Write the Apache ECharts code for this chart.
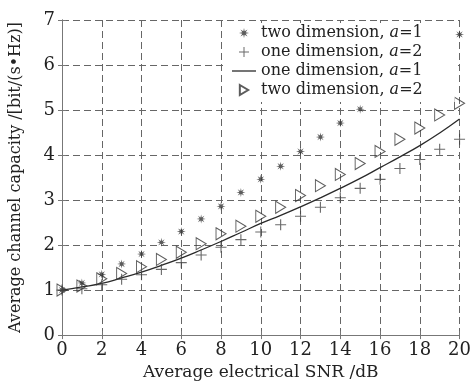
<!DOCTYPE html>
<html>
<head>
<meta charset="utf-8">
<script src="https://cdn.jsdelivr.net/npm/echarts@6/dist/echarts.min.js"></script>
<style>
  html, body { margin: 0; padding: 0; background: #fff; }
  #chart { width: 474px; height: 386px; }
</style>
</head>
<body>
<div id="chart"></div>
<script>
// 数据：横轴 SNR (dB)
const snr = [0, 1, 2, 3, 4, 5, 6, 7, 8, 9, 10, 11, 12, 13, 14, 15, 16, 17, 18, 19, 20]

// two dimension, a=1 (16~19 被图例遮住，原图不可见)
const twoDimA1 = [1.0, 1.16, 1.35, 1.58, 1.8, 2.06, 2.3, 2.58, 2.86, 3.17, 3.46, 3.75, 4.08, 4.4, 4.71, 5.02, null, null, null, null, 6.68]
// one dimension, a=2
const oneDimA2 = [1.0, 1.03, 1.12, 1.24, 1.34, 1.46, 1.61, 1.78, 1.95, 2.12, 2.29, 2.45, 2.64, 2.84, 3.05, 3.26, 3.46, 3.7, 3.9, 4.13, 4.35]
// one dimension, a=1 (曲线)
const oneDimA1 = [1.0, 1.07, 1.15, 1.27, 1.4, 1.55, 1.71, 1.89, 2.08, 2.28, 2.48, 2.66, 2.85, 3.05, 3.26, 3.48, 3.72, 3.96, 4.21, 4.49, 4.8]
// two dimension, a=2
const twoDimA2 = [1.0, 1.09, 1.25, 1.37, 1.52, 1.68, 1.84, 2.03, 2.25, 2.42, 2.64, 2.84, 3.1, 3.32, 3.57, 3.81, 4.08, 4.35, 4.6, 4.89, 5.15]

const seriesNames = ['two dimension, a=1', 'one dimension, a=2', 'one dimension, a=1', 'two dimension, a=2']

const pair = (ys) => snr.map((x, i) => [x, ys[i]]).filter((p) => p[1] !== null)

// 星形符号
const starPath = (() => {
  const pts = []
  for (let k = 0; k < 16; k++) {
    const r = k % 2 === 0 ? 5 : 1.8
    const a = (Math.PI / 8) * k - Math.PI / 2
    pts.push((5 + r * Math.cos(a)).toFixed(2) + ',' + (5 + r * Math.sin(a)).toFixed(2))
  }
  return 'path://M' + pts.join('L') + 'Z'
})()
const plusPath = 'path://M4.5,0h1v4.5h4.5v1h-4.5v4.5h-1v-4.5h-4.5v-1h4.5z'
const triPath = 'path://M0,0L10,6L0,12Z'
const linePath = 'path://M0,0h24v1.3h-24z'

const serif = '"DejaVu Serif", "Liberation Serif", serif'
const ink = '#2a2a2a'
const frame = '#777'

const chart = echarts.init(document.getElementById('chart'))

const legendFormatter = (name) => {
  const m = name.match(/^(.*), a=(\d)$/)
  return '{n|' + m[1] + ', }{i|a}{n|=' + m[2] + '}'
}

const option = {
  animation: false,
  backgroundColor: '#fff',
  grid: { left: 55, right: 13, top: 20, bottom: 48 },
  legend: {
    orient: 'vertical',
    left: 227,
    top: 23,
    padding: [2, 32, 4, 5],
    itemGap: 3,
    itemWidth: 24,
    itemHeight: 10,
    backgroundColor: '#fff',
    z: 10,
    data: [
      { name: seriesNames[0] },
      { name: seriesNames[1] },
      { name: seriesNames[2], icon: linePath },
      { name: seriesNames[3] },
    ],
    formatter: legendFormatter,
    textStyle: {
      fontFamily: serif,
      fontSize: 16,
      color: '#222',
      rich: {
        n: { fontFamily: serif, fontSize: 16, color: '#222' },
        i: { fontFamily: serif, fontSize: 16, fontStyle: 'italic', color: '#222' },
      },
    },
  },
  xAxis: [
    {
      type: 'value',
      min: 0,
      max: 20,
      interval: 2,
      name: 'Average electrical SNR /dB',
      nameLocation: 'middle',
      nameGap: 28,
      nameTextStyle: { fontFamily: serif, fontSize: 17, color: '#222' },
      axisLine: { lineStyle: { color: frame, width: 1 } },
      axisTick: { inside: true, length: 4, lineStyle: { color: frame } },
      axisLabel: { fontFamily: serif, fontSize: 18, color: '#222', margin: 6 },
      splitLine: { show: true, lineStyle: { type: [7, 4], color: '#666', width: 1 } },
    },
    {
      type: 'value',
      position: 'top',
      min: 0,
      max: 20,
      interval: 2,
      axisLine: { show: true, lineStyle: { color: frame, width: 1 } },
      axisTick: { show: true, inside: true, length: 4, lineStyle: { color: frame } },
      axisLabel: { show: false },
      splitLine: { show: false },
    },
  ],
  yAxis: [
    {
      type: 'value',
      min: 0,
      max: 7,
      interval: 1,
      name: 'Average channel capacity /[bit/(s\u2022Hz)]',
      nameLocation: 'middle',
      nameGap: 38,
      nameTextStyle: { fontFamily: serif, fontSize: 16, color: '#222' },
      axisLine: { show: true, lineStyle: { color: frame, width: 1 } },
      axisTick: { show: true, inside: true, length: 4, lineStyle: { color: frame } },
      axisLabel: { fontFamily: serif, fontSize: 18, color: '#222', margin: 7 },
      splitLine: { show: true, lineStyle: { type: [7, 4], color: '#666', width: 1 } },
    },
    {
      type: 'value',
      position: 'right',
      min: 0,
      max: 7,
      interval: 1,
      axisLine: { show: true, lineStyle: { color: frame, width: 1 } },
      axisTick: { show: true, inside: true, length: 4, lineStyle: { color: frame } },
      axisLabel: { show: false },
      splitLine: { show: false },
    },
  ],
  series: [
    {
      name: seriesNames[0],
      type: 'scatter',
      symbol: starPath,
      symbolSize: 9,
      itemStyle: { color: '#333' },
      data: pair(twoDimA1),
      z: 3,
    },
    {
      name: seriesNames[1],
      type: 'scatter',
      symbol: plusPath,
      symbolSize: 11,
      itemStyle: { color: '#444' },
      data: pair(oneDimA2),
      z: 3,
    },
    {
      name: seriesNames[2],
      type: 'line',
      smooth: true,
      showSymbol: false,
      symbol: 'none',
      lineStyle: { color: ink, width: 1.3 },
      itemStyle: { color: ink },
      data: pair(oneDimA1),
      z: 2,
    },
    {
      name: seriesNames[3],
      type: 'scatter',
      symbol: triPath,
      symbolSize: [10, 12],
      itemStyle: { color: 'rgba(255,255,255,0)', borderColor: '#333', borderWidth: 1 },
      data: pair(twoDimA2),
      z: 3,
    },
  ],
}

chart.setOption(option)
</script>
</body>
</html>
